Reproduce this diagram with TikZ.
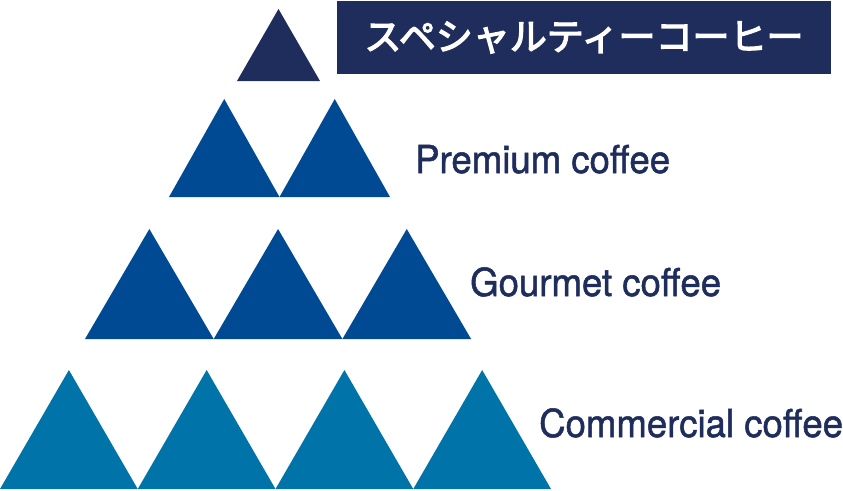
\documentclass[tikz,border=0pt]{standalone}
\usepackage{fontspec}
\setmainfont{TeX Gyre Heros}[FakeStretch=0.95,FakeBold=1.3]
\newfontfamily\cjk{Noto Sans CJK JP}[FakeBold=3.5]

\definecolor{navy}{RGB}{31,45,92}
\definecolor{royal}{RGB}{0,74,147}
\definecolor{teal}{RGB}{0,116,168}

\begin{document}
\begin{tikzpicture}[x=1pt,y=-1pt,
	label/.style={anchor=base west,inner sep=0pt,text=navy,font=\fontsize{38.5}{40}\selectfont},
	titlebox/.style={fill=navy,text=white,minimum width=494pt,minimum height=73pt,inner sep=0pt,font=\cjk\fontsize{37}{40}\selectfont}]
	\useasboundingbox (0,0) rectangle (843,490);

	\fill[navy] (237,81) -- (278.5,9) -- (320,81) -- cycle;
	\foreach \i in {0,1}{
		\fill[royal] ({169+\i*110.5},197) -- ({169+\i*110.5+55.25},99) -- ({169+(\i+1)*110.5},197) -- cycle;
	}
	\foreach \i in {0,1,2}{
		\fill[royal] ({85+\i*128.7},339) -- ({85+\i*128.7+64.35},229) -- ({85+(\i+1)*128.7},339) -- cycle;
	}
	\foreach \i in {0,...,3}{
		\fill[teal] ({\i*137.75},489) -- ({\i*137.75+68.9},370) -- ({(\i+1)*137.75},489) -- cycle;
	}

	\node[titlebox] (special) at (584,37.5) {スペシャルティーコーヒー};
	\node[label] (premium) at (415,173) {Premium coffee};
	\node[label] (gourmet) at (470,296) {Gourmet coffee};
	\node[label] (commercial) at (539,437) {Commercial coffee};
\end{tikzpicture}
\end{document}
